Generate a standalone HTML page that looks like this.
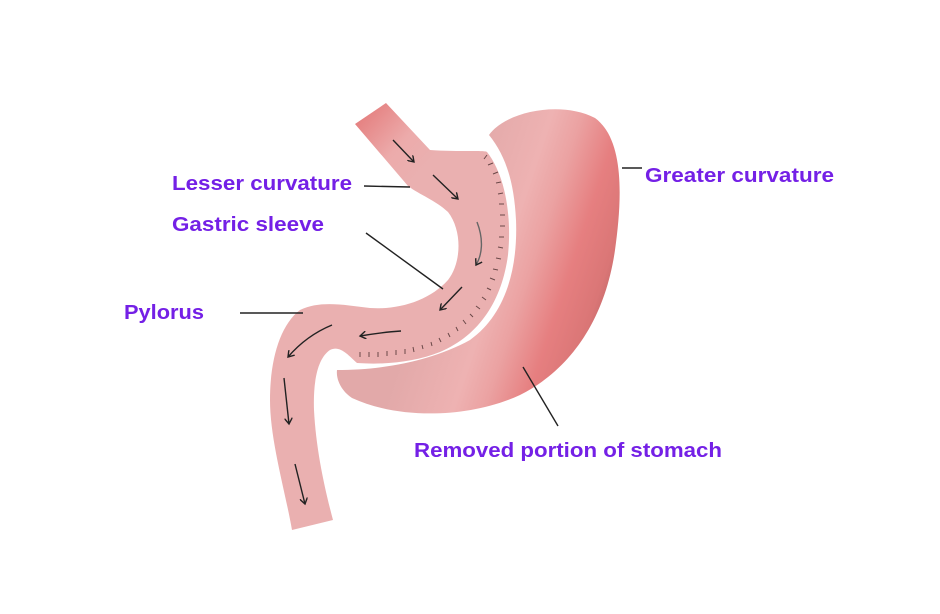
<!DOCTYPE html>
<html><head><meta charset="utf-8"><style>
html,body{margin:0;padding:0;background:#fff;}
svg{display:block;}
text{font-family:"Liberation Sans",sans-serif;font-weight:bold;font-size:20px;fill:#7420e6;}
</style></head><body>
<svg width="940" height="614" viewBox="0 0 940 614" xmlns="http://www.w3.org/2000/svg">
<defs>
<linearGradient id="st" gradientUnits="userSpaceOnUse" x1="440" y1="240" x2="620" y2="300">
<stop offset="0" stop-color="#e2a9a9"/>
<stop offset="0.35" stop-color="#eeb2b2"/>
<stop offset="0.5" stop-color="#eba2a2"/>
<stop offset="0.7" stop-color="#e67f80"/>
<stop offset="0.88" stop-color="#da7676"/>
<stop offset="1" stop-color="#b96264"/>
</linearGradient>
<linearGradient id="sl" gradientUnits="userSpaceOnUse" x1="355" y1="115" x2="420" y2="175">
<stop offset="0" stop-color="#e47c7c"/>
<stop offset="0.6" stop-color="#ecabab"/>
<stop offset="1" stop-color="#eab0b0"/>
</linearGradient>
<marker id="ah" markerWidth="8" markerHeight="8" refX="6" refY="4" orient="auto" markerUnits="userSpaceOnUse">
<path d="M0,0 L6,4 L0,8" fill="none" stroke="#222" stroke-width="1.4"/>
</marker>
</defs>
<path d="M489,135 C505,112 560,100 595,118 C625,140 622,200 615,250 C605,320 570,370 520,395 C470,418 400,420 352,398 C340,390 336,378 337,370 C380,370 430,362 470,340 C505,315 518,270 516,220 C514,180 505,155 489,135 Z" fill="url(#st)"/>
<path d="M355,124 L386,103 L430,150 C460,152 485,150 487,152 C505,175 512,215 508,255 C502,300 480,335 440,352 C415,362 385,365 357,363 C348,355 340,345 330,350 C318,358 313,380 314,410 C316,450 325,490 333,520 L292,530 C285,490 270,440 270,400 C270,360 280,325 300,310 C320,300 345,305 370,308 C400,310 430,300 448,280 C462,262 462,230 448,212 C435,200 420,195 408,186 Z" fill="url(#sl)"/>
<g stroke="#6a4848" stroke-width="1">
<path d="M487,155 l-3,4 M493,163 l-5,2 M498,172 l-5,2 M501,182 l-5,1 M503,193 l-5,1 M504,204 l-5,0 M505,215 l-5,0 M505,226 l-5,0 M504,237 l-5,0 M503,248 l-5,-1 M501,259 l-5,-1 M498,270 l-5,-1 M495,280 l-5,-2 M491,290 l-4,-2 M486,300 l-4,-3 M480,309 l-4,-3 M473,317 l-3,-3 M466,324 l-3,-4 M458,331 l-2,-4 M450,337 l-2,-4 M441,342 l-2,-4 M432,346 l-1,-4 M423,349 l-1,-4 M414,352 l-1,-5 M405,354 l0,-5 M396,355 l0,-5 M387,356 l0,-5 M378,357 l0,-5 M369,357 l0,-5 M360,357 l0,-5"/>
</g>
<g fill="none" stroke="#222" stroke-width="1.4" marker-end="url(#ah)">
<path d="M393,140 L414,162"/>
<path d="M433,175 L458,199"/>
<path d="M477,222 C484,240 482,255 476,265" stroke="#666"/>
<path d="M462,287 L440,310"/>
<path d="M401,331 C385,332 372,334 360,336"/>
<path d="M332,325 C315,332 300,343 288,357"/>
<path d="M284,378 L289,424"/>
<path d="M295,464 L305,504"/>
</g>
<g stroke="#222" stroke-width="1.4">
<line x1="364" y1="186" x2="410" y2="187"/>
<line x1="366" y1="233" x2="443" y2="289"/>
<line x1="240" y1="313" x2="303" y2="313"/>
<line x1="622" y1="168" x2="642" y2="168"/>
<line x1="523" y1="367" x2="558" y2="426"/>
</g>
<text x="172" y="190" textLength="180" lengthAdjust="spacingAndGlyphs">Lesser curvature</text>
<text x="172" y="231" textLength="152" lengthAdjust="spacingAndGlyphs">Gastric sleeve</text>
<text x="124" y="319" textLength="80" lengthAdjust="spacingAndGlyphs">Pylorus</text>
<text x="645" y="182" textLength="189" lengthAdjust="spacingAndGlyphs">Greater curvature</text>
<text x="414" y="457" textLength="308" lengthAdjust="spacingAndGlyphs">Removed portion of stomach</text>
</svg>
</body></html>
